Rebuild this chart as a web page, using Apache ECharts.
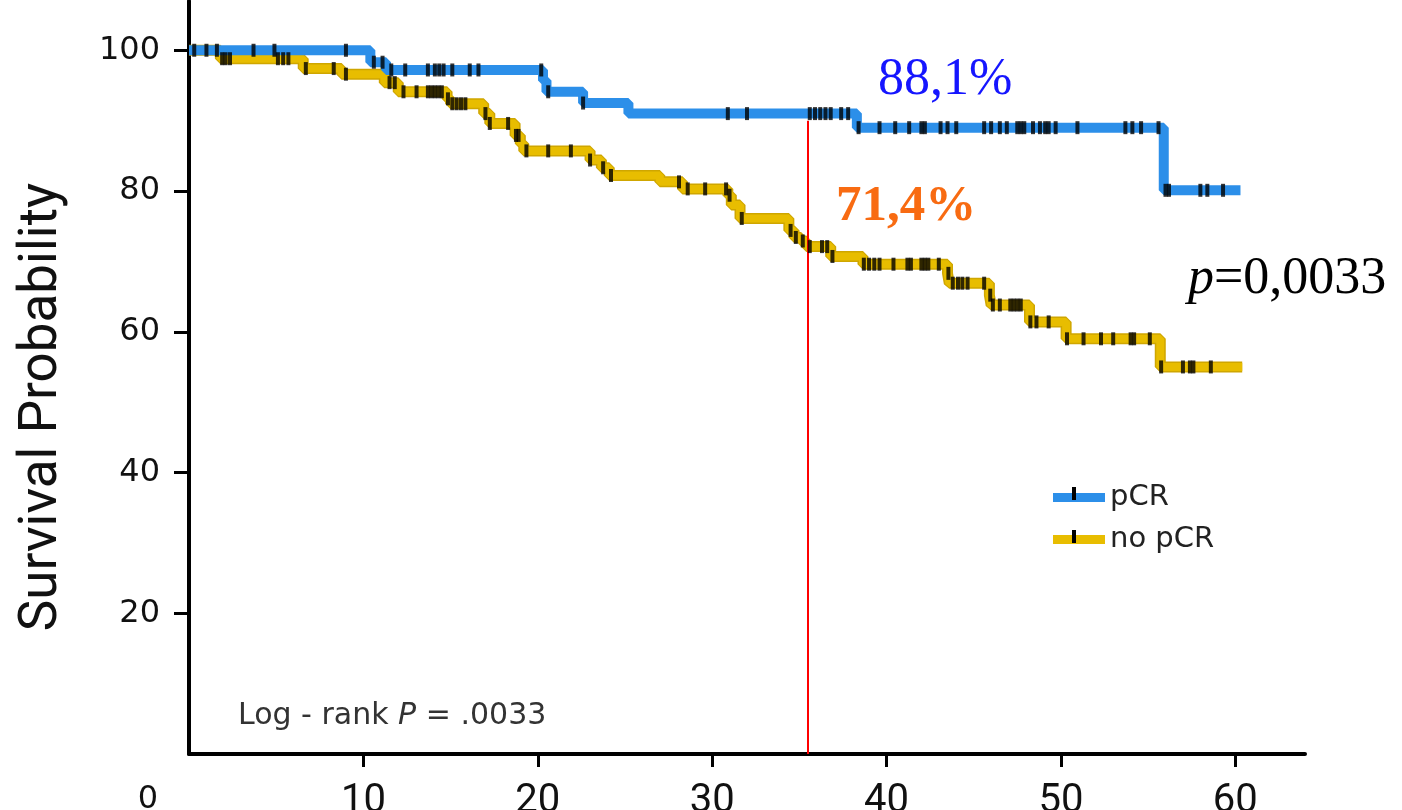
<!DOCTYPE html>
<html>
<head>
<meta charset="utf-8">
<script src="https://cdn.jsdelivr.net/npm/echarts@6/dist/echarts.min.js"></script>
<style>
html,body{margin:0;padding:0;background:#fff;}
#chart{width:1402px;height:810px;}
</style>
</head>
<body>
<div id="chart"></div>
<script>
// ---- data (months, survival %) ----
var xTickValues = [10, 20, 30, 40, 50, 60];
var yTickValues = [20, 40, 60, 80, 100];

var pcrTimes = [0, 10.4, 11.3, 20.3, 20.5, 22.6, 25.2, 38.3, 55.9, 60.3];
var pcrSurv  = [100, 98.3, 97.2, 95.7, 94.1, 92.5, 91.0, 89.0, 80.1, 80.1];

var noPcrTimes = [0, 1.8, 6.55, 8.75, 11.2, 12.0, 14.8, 15.0, 16.9, 17.25, 18.7, 19.0, 19.2, 23.0, 23.65, 24.1, 27.0, 28.3, 30.9, 31.1, 31.6, 34.4, 34.7, 35.1, 35.4, 36.8, 38.65, 43.5, 43.6, 45.9, 46.0, 48.2, 50.3, 55.7, 60.4];
var noPcrSurv  = [100, 98.8, 97.4, 96.6, 95.4, 94.1, 93.1, 92.4, 91.0, 89.6, 87.9, 86.7, 85.7, 84.4, 83.3, 82.2, 81.3, 80.3, 79.4, 78.0, 76.1, 74.4, 73.4, 72.9, 72.1, 70.7, 69.6, 68.3, 66.9, 65.2, 63.8, 61.4, 59.0, 55.0, 55.0];

var pcrCensored = [0.3, 1.0, 1.6, 3.7, 4.9, 9.0, 10.6, 11.1, 11.6, 12.4, 13.7, 14.1, 14.35, 14.6, 15.1, 16.1, 16.6, 20.2, 20.6, 22.6, 30.9, 32.0, 35.6, 35.9, 36.2, 36.5, 36.8, 37.4, 37.8, 38.4, 39.6, 40.5, 41.3, 42.0, 42.2, 43.1, 43.5, 44.0, 45.6, 46.0, 46.5, 46.9, 47.5, 47.7, 47.9, 48.4, 48.8, 49.1, 49.3, 49.7, 50.95, 53.7, 54.1, 54.6, 55.6, 56.0, 56.2, 58.0, 58.4, 59.3];
var noPcrCensored = [1.9, 2.1, 2.35, 5.1, 5.4, 5.7, 6.7, 8.3, 9.0, 11.5, 11.8, 12.3, 13.05, 13.7, 13.9, 14.1, 14.3, 14.5, 14.85, 15.1, 15.35, 15.6, 15.85, 17.0, 17.25, 18.3, 18.75, 18.9, 19.35, 20.6, 21.9, 23.0, 23.75, 24.2, 28.1, 28.6, 29.6, 30.8, 31.0, 31.7, 34.5, 34.8, 35.2, 35.6, 36.3, 36.6, 36.9, 38.7, 39.0, 39.3, 39.6, 40.4, 41.2, 41.4, 42.0, 42.2, 42.4, 43.0, 43.55, 43.8, 44.1, 44.35, 44.65, 45.6, 45.95, 46.1, 46.5, 47.1, 47.3, 47.5, 47.7, 48.25, 48.6, 49.3, 50.35, 51.3, 52.3, 53.0, 54.0, 54.2, 55.1, 55.75, 57.0, 57.4, 57.6, 58.6];

var markerTime = 35.5;
var markerTop = 90.0;

var seriesNames = ['pCR', 'no pCR'];
var annotPcr = '88,1%';
var annotNoPcr = '71,4%';
var annotP = '=0,0033';
var logRankText = ['Log - rank ', 'P', ' = .0033'];
var yTitle = 'Survival Probability';

// ---- helpers ----
function pairs(ts, ss) { return ts.map(function (t, i) { return [t, ss[i]]; }); }
function stepValue(ts, ss, t) {
  var v = ss[0];
  for (var i = 0; i < ts.length; i++) { if (ts[i] <= t) v = ss[i]; }
  return v;
}
function censorPts(cs, ts, ss) { return cs.map(function (t) { return [t, stepValue(ts, ss, t)]; }); }

var BLUE = '#2c8fe9';
var YELLOW = '#e8bd00';
var YELLOW_EDGE = '#cfa600';

var chart = echarts.init(document.getElementById('chart'), null, {renderer: 'canvas'});
chart.setOption({
  animation: false,
  backgroundColor: '#ffffff',
  grid: {left: 189, right: 97, top: 1, bottom: 56, containLabel: false, outerBoundsMode: 'none'},
  xAxis: {
    type: 'value', min: 0, max: 64, interval: 10,
    axisLine: {lineStyle: {color: '#000', width: 4}},
    axisTick: {show: true, length: 13, lineStyle: {color: '#000', width: 3}, customValues: xTickValues},
    axisLabel: {customValues: xTickValues, margin: 28, color: '#111', fontFamily: '"Liberation Sans Narrow", Roboto, sans-serif', fontSize: 40},
    splitLine: {show: false}
  },
  yAxis: {
    type: 'value', min: 0, max: 107, interval: 20,
    axisLine: {show: true, lineStyle: {color: '#000', width: 4}},
    axisTick: {show: true, length: 15, lineStyle: {color: '#000', width: 3}, customValues: yTickValues},
    axisLabel: {customValues: yTickValues, margin: 29, color: '#111', fontFamily: '"DejaVu Sans", sans-serif', fontSize: 32},
    splitLine: {show: false}
  },
  legend: {
    orient: 'vertical', left: 1048, top: 478, itemWidth: 52, itemHeight: 9, itemGap: 13,
    icon: 'rect', data: seriesNames,
    textStyle: {color: '#222', fontFamily: '"DejaVu Sans", sans-serif', fontSize: 29}
  },
  series: [
    {
      name: 'noPcrEdge', type: 'line', step: 'end', data: pairs(noPcrTimes, noPcrSurv),
      showSymbol: false, symbol: 'none', silent: true, color: YELLOW_EDGE, lineStyle: {color: YELLOW_EDGE, width: 11}, z: 1
    },
    {
      name: seriesNames[1], type: 'line', step: 'end', data: pairs(noPcrTimes, noPcrSurv),
      showSymbol: false, symbol: 'none', color: YELLOW, lineStyle: {color: YELLOW, width: 8}, z: 2
    },
    {
      name: seriesNames[0], type: 'line', step: 'end', data: pairs(pcrTimes, pcrSurv),
      showSymbol: false, symbol: 'none', color: BLUE, lineStyle: {color: BLUE, width: 10}, z: 3,
      markLine: {
        silent: true, symbol: ['none', 'none'], label: {show: false},
        lineStyle: {color: '#ff0000', width: 2, type: 'solid'},
        data: [[{coord: [markerTime, 0]}, {coord: [markerTime, markerTop]}]]
      }
    },
    {
      name: 'noPcrCens', type: 'scatter', data: censorPts(noPcrCensored, noPcrTimes, noPcrSurv),
      symbol: 'rect', symbolSize: [4, 13], itemStyle: {color: '#000'}, z: 5
    },
    {
      name: 'pcrCens', type: 'scatter', data: censorPts(pcrCensored, pcrTimes, pcrSurv),
      symbol: 'rect', symbolSize: [4, 13], itemStyle: {color: '#000'}, z: 5
    }
  ],
  graphic: [
    {type: 'text', x: 43, y: 407, rotation: Math.PI / 2, style: {text: yTitle, font: '53px "Liberation Sans Narrow", Roboto, sans-serif', fill: '#111', align: 'center', verticalAlign: 'middle'}, z: 100},
    {type: 'rect', left: 1072, top: 487, shape: {width: 4, height: 13}, style: {fill: '#000'}, z: 100},
    {type: 'rect', left: 1072, top: 530, shape: {width: 4, height: 13}, style: {fill: '#000'}, z: 100},
    {type: 'text', x: 878, y: 80, style: {text: annotPcr, font: '52px "Liberation Serif", serif', fill: '#1515ff', align: 'left', verticalAlign: 'middle'}, z: 100},
    {type: 'text', x: 836, y: 207, style: {text: annotNoPcr, font: 'bold 51px "Liberation Serif", serif', fill: '#f86b12', align: 'left', verticalAlign: 'middle'}, z: 100},
    {type: 'text', x: 1188, y: 279, style: {
      text: '{i|p}' + annotP, font: '52px "Liberation Serif", serif', fill: '#000', align: 'left', verticalAlign: 'middle',
      rich: {i: {fontStyle: 'italic', fontFamily: '"Liberation Serif", serif', fontSize: 52, fill: '#000'}}
    }, z: 100},
    {type: 'text', x: 238, y: 716, style: {
      text: logRankText[0] + '{i|' + logRankText[1] + '}' + logRankText[2], font: '30px "DejaVu Sans", sans-serif', fill: '#333', align: 'left', verticalAlign: 'middle',
      rich: {i: {fontStyle: 'italic', fontFamily: '"DejaVu Sans", sans-serif', fontSize: 30, fill: '#333'}}
    }, z: 100},
    {type: 'text', x: 148, y: 800, style: {text: '0', font: '32px "DejaVu Sans", sans-serif', fill: '#111', align: 'center', verticalAlign: 'middle'}, z: 100}
  ]
});
</script>
</body>
</html>
